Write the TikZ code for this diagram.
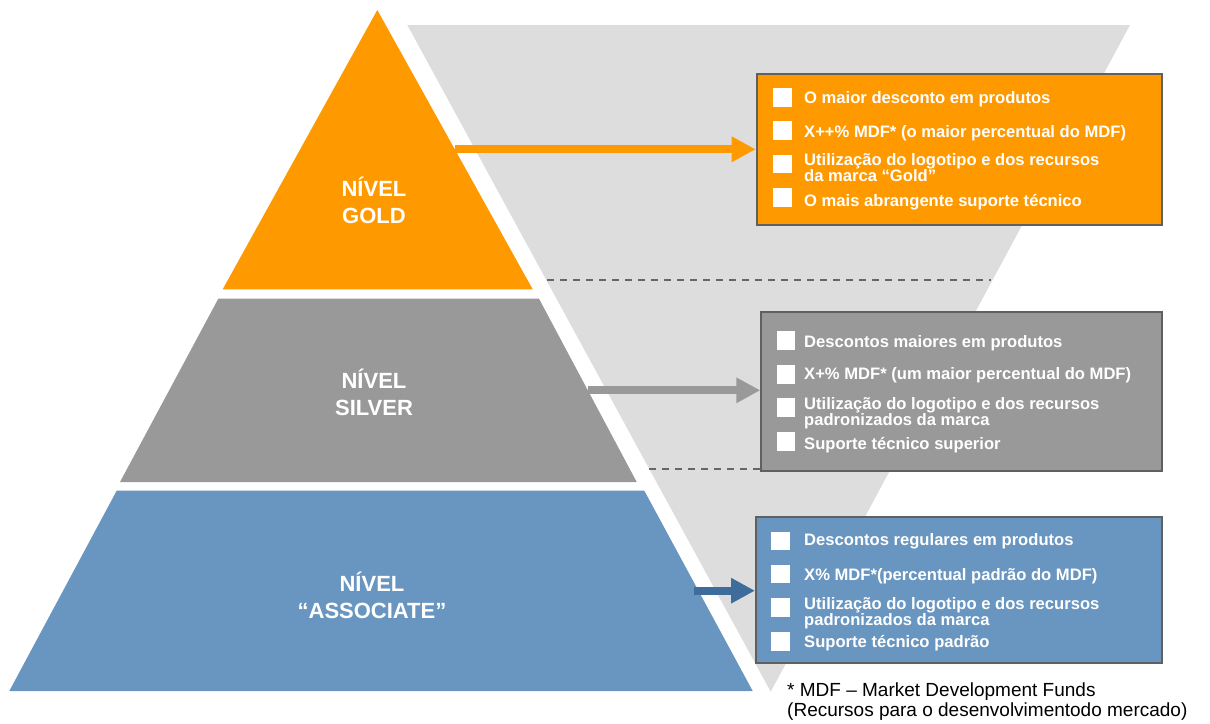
\documentclass[tikz,border=0pt]{standalone}
\usepackage{fontspec}
\setmainfont{Liberation Sans}
\usetikzlibrary{arrows.meta}

\definecolor{gold}{HTML}{FF9900}
\definecolor{silver}{HTML}{999999}
\definecolor{assoc}{HTML}{6996C0}
\definecolor{assocdark}{HTML}{3E6D9B}
\definecolor{funnel}{HTML}{DDDDDD}
\definecolor{boxline}{HTML}{606060}
\definecolor{divline}{HTML}{666666}

\tikzset{
    tierbox/.style={
        rectangle, anchor=north west, inner sep=0pt,
        draw=boxline, line width=2pt,
    },
    bullet/.style={
        rectangle, fill=white, inner sep=0pt,
        minimum size=18.5pt,
    },
    itemtext/.style={
        anchor=base west, inner sep=0pt, align=left,
        text=white, font=\fontsize{16.6}{16}\selectfont\bfseries,
    },
    tierlabel/.style={
        anchor=base, inner sep=0pt, align=center,
        text=white, font=\fontsize{22}{27}\selectfont\bfseries,
    },
    tierarrow/.style={
        line width=8pt, -{Triangle[length=24pt, width=24pt]},
    },
    divider/.style={
        draw=divline, line width=2pt, dash pattern=on 7pt off 6pt,
    },
}

\begin{document}
\begin{tikzpicture}[x=1pt, y=-1pt]
        \useasboundingbox (0,0) rectangle (1210,723);

        % funnel behind the boxes
        \fill[funnel] (407.3,25) -- (1130,25) -- (770.7,691.7) -- cycle;

        % level dividers
        \coordinate (div1l) at (547,280);
        \coordinate (div1r) at (991,280);
        \coordinate (div2l) at (649,469.3);
        \coordinate (div2r) at (890,469.3);
        \draw[divider] (div1l) -- (div1r);
        \draw[divider] (div2l) -- (div2r);

        % pyramid
        \fill[gold] (377.3,10) -- (532.7,289.3) -- (222.7,289.3) -- cycle;
        \fill[silver] (218.3,298.7) -- (539,298.7) -- (636.7,482) -- (120,482) -- cycle;
        \fill[assoc] (116.7,490.7) -- (644.3,490.7) -- (752.7,691) -- (9.3,691) -- cycle;

        % (base of a two-line node sits on its last line)
        \node (goldlabel) at(374,223) [tierlabel] {NÍVEL\\GOLD};
        \node (silverlabel) at(374,415) [tierlabel] {NÍVEL\\SILVER};
        \node (assoclabel) at(372,618.5) [tierlabel] {NÍVEL\\“ASSOCIATE”};

        % benefit boxes
        \node (goldbox) at(755.7,73.3) [
            tierbox, fill=gold,
            minimum width=405pt, minimum height=150.7pt,
        ] {};
        \node (silverbox) at(760.3,311) [
            tierbox, fill=silver,
            minimum width=400.4pt, minimum height=158.7pt,
        ] {};
        \node (assocbox) at(755,516) [
            tierbox, fill=assoc,
            minimum width=405.7pt, minimum height=146.3pt,
        ] {};

        % arrows from the levels
        \coordinate (goldout) at (455,149.3);
        \coordinate (silverout) at (588,390.3);
        \coordinate (assocout) at (694,590.7);
        \draw[tierarrow, gold] (goldout) -- (goldout -| goldbox.west);
        \draw[tierarrow, silver] (silverout) -- (silverout -| silverbox.west);
        \draw[tierarrow, assocdark] (assocout) -- (assocout -| assocbox.west);

        % gold items
        \node (goldsq1) at(782.5,97.5) [bullet] {};
        \node (goldsq2) at(782.5,130.5) [bullet] {};
        \node (goldsq3) at(782.5,164) [bullet] {};
        \node (goldsq4) at(782.5,197.5) [bullet] {};
        \node (goldtxt1) at(804,103.3) [itemtext] {O maior desconto em produtos};
        \node (goldtxt2) at(804,137.3) [itemtext] {X++\% MDF* (o maior percentual do MDF)};
        \node (goldtxt3) at(804,181) [itemtext] {Utilização do logotipo e dos recursos\\da marca “Gold”};
        \node (goldtxt4) at(804,206) [itemtext] {O mais abrangente suporte técnico};

        % silver items
        \node (silversq1) at(786,340.5) [bullet] {};
        \node (silversq2) at(786,374.3) [bullet] {};
        \node (silversq3) at(786,407.5) [bullet] {};
        \node (silversq4) at(786,441.5) [bullet] {};
        \node (silvertxt1) at(804,347.3) [itemtext] {Descontos maiores em produtos};
        \node (silvertxt2) at(804,379.3) [itemtext] {X+\% MDF* (um maior percentual do MDF)};
        \node (silvertxt3) at(804,425) [itemtext] {Utilização do logotipo e dos recursos\\padronizados da marca};
        \node (silvertxt4) at(804,449) [itemtext] {Suporte técnico superior};

        % associate items
        \node (assocsq1) at(780.5,540.8) [bullet] {};
        \node (assocsq2) at(780.5,574) [bullet] {};
        \node (assocsq3) at(780.5,607.5) [bullet] {};
        \node (assocsq4) at(780.5,641.5) [bullet] {};
        \node (assoctxt1) at(804,545.7) [itemtext] {Descontos regulares em produtos};
        \node (assoctxt2) at(804,580) [itemtext] {X\% MDF*(percentual padrão do MDF)};
        \node (assoctxt3) at(804,625) [itemtext] {Utilização do logotipo e dos recursos\\padronizados da marca};
        \node (assoctxt4) at(804,647.7) [itemtext] {Suporte técnico padrão};

        \node (footnote) at(787,716.5) [
            anchor=base west, inner sep=0pt, align=left,
            font=\fontsize{19}{20}\selectfont,
        ] {* MDF – Market Development Funds\\(Recursos para o desenvolvimentodo mercado)};
    \end{tikzpicture}
\end{document}
